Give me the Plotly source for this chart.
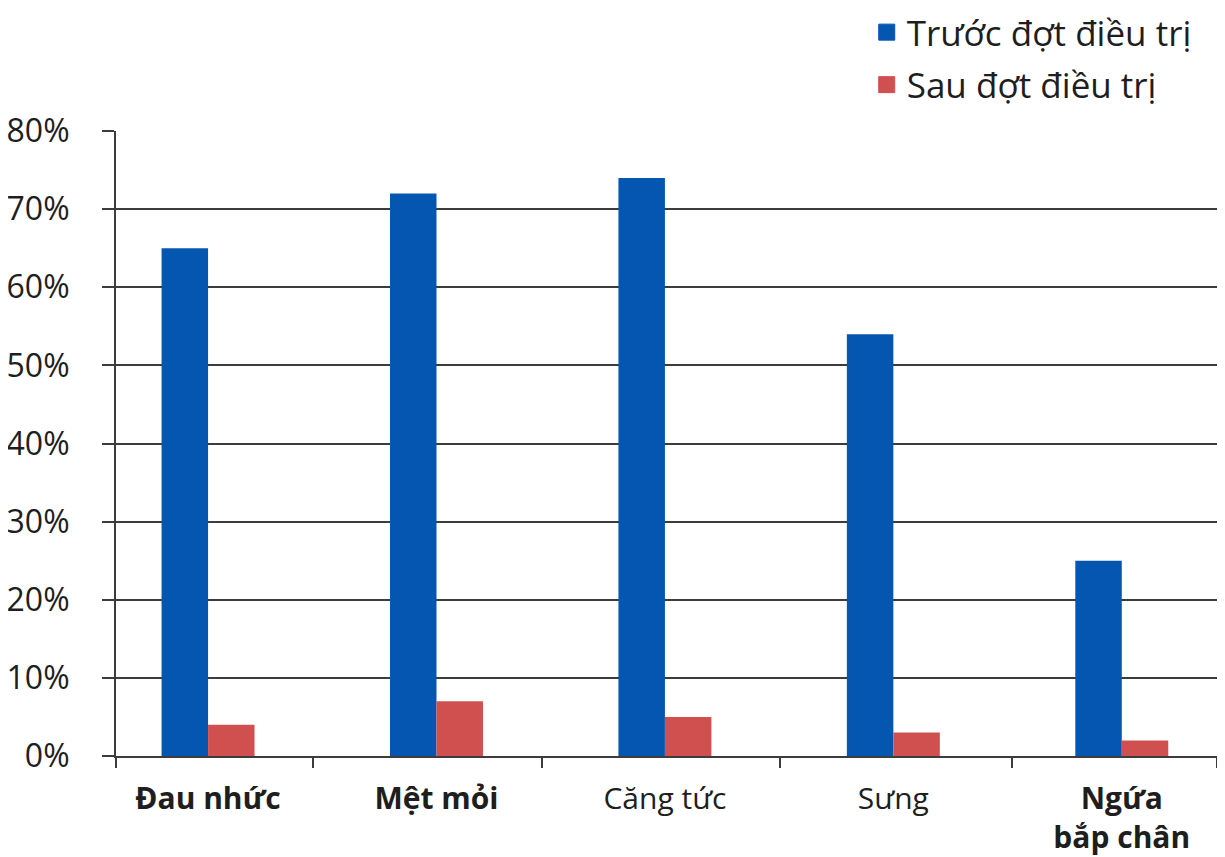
import plotly.graph_objects as go

categories = ["Đau nhức", "Mệt mỏi", "Căng tức", "Sưng", "Ngứa<br>bắp chân"]
bold_flags = [True, True, False, False, True]
before_vals = [65, 72, 74, 54, 25]
after_vals = [4, 7, 5, 3, 2]
series_names = ["Trước đợt điều trị", "Sau đợt điều trị"]
y_ticks = [0, 10, 20, 30, 40, 50, 60, 70, 80]

BLUE = "#0456b1"
RED = "#d0504f"
GRID = "#3c3c3c"
FONT = "Open Sans"

xi = list(range(len(categories)))
ticktext = [f"<b>{c}</b>" if b else c for c, b in zip(categories, bold_flags)]

fig = go.Figure()
for vals, name, color, grp in [(before_vals, series_names[0], BLUE, "a"),
                               (after_vals, series_names[1], RED, "b")]:
    fig.add_trace(go.Bar(x=xi, y=vals, name=name, marker_color=color,
                         marker_line_width=0, legendgroup=grp, showlegend=False))
    # legend-only entry with a larger square swatch
    fig.add_trace(go.Scatter(x=[None], y=[None], mode="markers", name=name,
                             legendgroup=grp, showlegend=True,
                             marker=dict(symbol="square", size=16, color=color,
                                         line=dict(width=1, color=color))))

x_range = [-0.403, 4.43]
boundary_ticks = [-0.403, 0.46, 1.462, 2.503, 3.518, 4.415]

# page body has an 8px default margin, so the figure is sized to fit the window
fig.update_layout(
    width=1217, height=849,
    margin=dict(l=108, r=5, t=123, b=101, autoexpand=False),
    paper_bgcolor="white", plot_bgcolor="white",
    barmode="group", bargap=0.593, bargroupgap=0,
    font=dict(family=FONT, color="#1e1e1e"),
    legend=dict(x=0.68, y=1.205, xanchor="left", yanchor="top",
                font=dict(size=35, color="#1e1e1e"), bgcolor="rgba(0,0,0,0)",
                tracegroupgap=4, itemsizing="trace"),
    xaxis=dict(range=x_range, tickmode="array", tickvals=xi, ticktext=ticktext,
               ticks="", showgrid=False, zeroline=False, automargin=False,
               showline=True, linecolor=GRID, linewidth=2,
               tickfont=dict(size=30, color="#1e1e1e"), ticklabelstandoff=15,
               minor=dict(tickmode="array", tickvals=boundary_ticks, ticks="outside",
                          ticklen=10, tickwidth=2, tickcolor=GRID, showgrid=False)),
    yaxis=dict(range=[0, 80], tickmode="array", tickvals=y_ticks,
               ticktext=[f"{v}%" for v in y_ticks], automargin=False,
               showgrid=True, gridcolor=GRID, gridwidth=2,
               zeroline=False, showline=True, linecolor=GRID, linewidth=2,
               ticks="outside", ticklen=12, tickwidth=2, tickcolor=GRID,
               tickfont=dict(size=32, color="#1e1e1e"), ticklabelstandoff=26),
)

fig.write_html("out.html")
